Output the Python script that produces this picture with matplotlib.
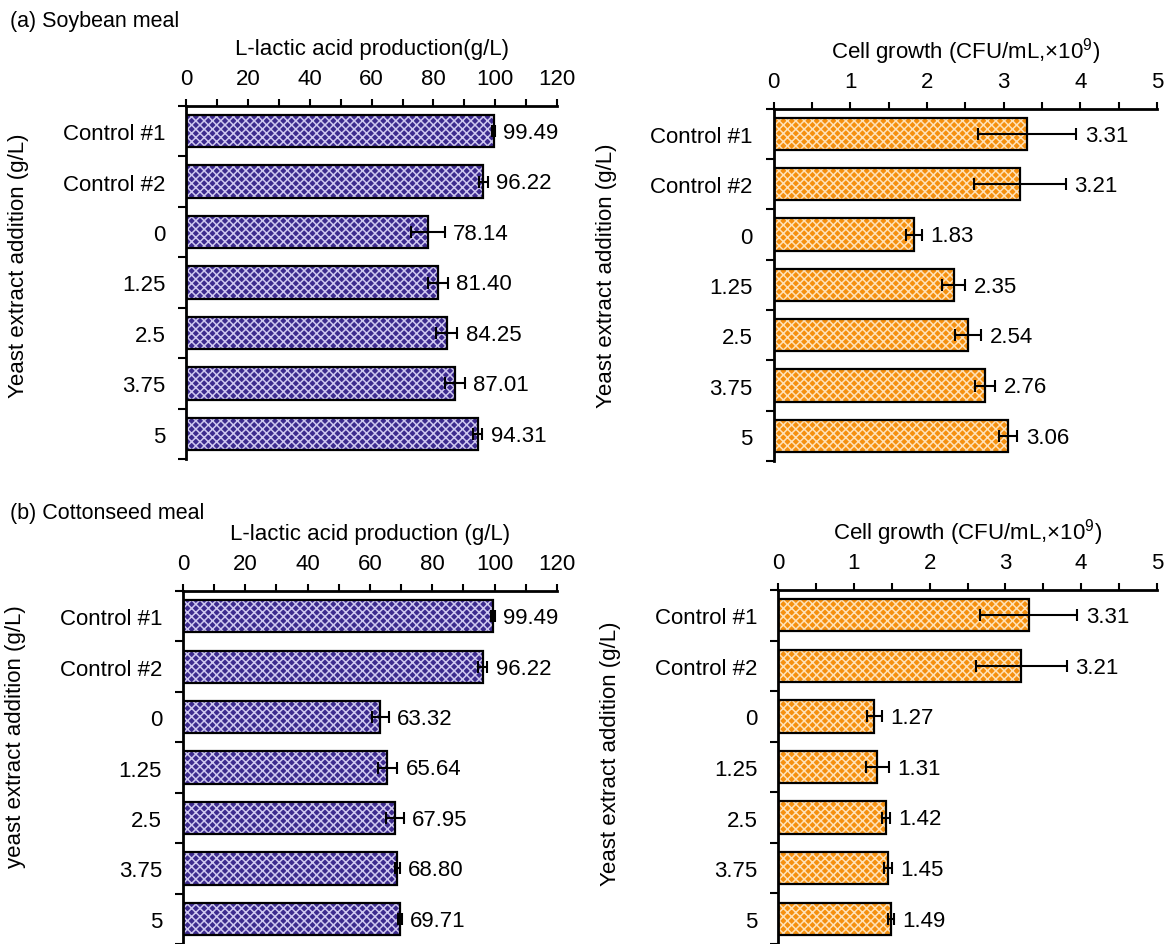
import numpy as np
import matplotlib.pyplot as plt
from matplotlib.ticker import MultipleLocator, FixedLocator

plt.rcParams['font.family'] = ['Liberation Sans', 'DejaVu Sans']
plt.rcParams['mathtext.fontset'] = 'custom'
plt.rcParams['mathtext.rm'] = 'Liberation Sans'
plt.rcParams['hatch.linewidth'] = 1.1

categories = ["Control #1", "Control #2", "0", "1.25", "2.5", "3.75", "5"]

soy_lactic = [99.49, 96.22, 78.14, 81.40, 84.25, 87.01, 94.31]
soy_lactic_err = [0.5, 1.5, 5.5, 3.2, 3.5, 3.2, 1.5]
soy_cell = [3.31, 3.21, 1.83, 2.35, 2.54, 2.76, 3.06]
soy_cell_err = [0.64, 0.60, 0.10, 0.15, 0.17, 0.13, 0.12]

cotton_lactic = [99.49, 96.22, 63.32, 65.64, 67.95, 68.80, 69.71]
cotton_lactic_err = [0.5, 1.5, 2.7, 3.1, 2.9, 0.8, 0.6]
cotton_cell = [3.31, 3.21, 1.27, 1.31, 1.42, 1.45, 1.49]
cotton_cell_err = [0.64, 0.60, 0.10, 0.15, 0.05, 0.05, 0.04]

PURPLE = ('#3d2b8e', '#cfc8f0')
ORANGE = ('#f5900f', '#ffe2b8')
FS = 16

fig = plt.figure(figsize=(11.65, 9.45), dpi=100)


def panel(rect, vals, errs, colors, xmax, xmajor, xlabel, ylabel, ylabel_y):
    ax = fig.add_axes(rect)
    y = np.arange(len(categories))
    base, light = colors
    # patterned fill, then the black outline on top
    ax.barh(y, vals, height=0.64, color=base, edgecolor=light,
            linewidth=0, hatch='xxxx', zorder=2)
    ax.barh(y, vals, height=0.64, fill=False, edgecolor='black',
            linewidth=1.6, zorder=3)
    ax.errorbar(vals, y, xerr=errs, fmt='none', ecolor='black',
                elinewidth=1.5, capsize=4, capthick=1.5, zorder=4)
    for yi, v, e in zip(y, vals, errs):
        ax.annotate(f"{v:.2f}", (v + e, yi), xytext=(6, -1),
                    textcoords='offset points', va='center', ha='left',
                    fontsize=FS)

    ax.set_xlim(0, xmax)
    ax.set_ylim(len(categories) - 0.5, -0.5)
    ax.xaxis.tick_top()
    ax.xaxis.set_label_position('top')
    ax.xaxis.set_major_locator(MultipleLocator(xmajor))
    ax.xaxis.set_minor_locator(MultipleLocator(xmajor / 2))
    ax.tick_params(axis='x', which='both', direction='out', length=5,
                   width=1.5, labelsize=FS, pad=7)
    ax.set_xlabel(xlabel, fontsize=FS, labelpad=10)

    ax.set_yticks(y)
    ax.set_yticklabels(categories)
    ax.yaxis.set_minor_locator(FixedLocator(np.arange(len(categories) + 1) - 0.5))
    ax.tick_params(axis='y', which='major', length=0, labelsize=FS, pad=15)
    ax.tick_params(axis='y', which='minor', direction='out', length=6,
                   width=1.5)
    ax.set_ylabel(ylabel, fontsize=FS)
    ax.yaxis.set_label_coords(-157 / (rect[2] * 1165), ylabel_y)

    for side in ('right', 'bottom'):
        ax.spines[side].set_visible(False)
    for side in ('left', 'top'):
        ax.spines[side].set_linewidth(2)
    return ax


cell_label = "Cell growth (CFU/mL,×10$^{9}$)"

panel([0.160, 0.513, 0.318, 0.374], soy_lactic, soy_lactic_err, PURPLE,
      120, 20, "L-lactic acid production(g/L)", "Yeast extract addition (g/L)", 0.55)
panel([0.664, 0.511, 0.329, 0.373], soy_cell, soy_cell_err, ORANGE,
      5, 1, cell_label, "Yeast extract addition (g/L)", 0.53)
panel([0.157, 0.0, 0.321, 0.3735], cotton_lactic, cotton_lactic_err, PURPLE,
      120, 20, "L-lactic acid production (g/L)", "yeast extract addition (g/L)", 0.59)
panel([0.668, 0.0, 0.325, 0.3746], cotton_cell, cotton_cell_err, ORANGE,
      5, 1, cell_label, "Yeast extract addition (g/L)", 0.54)

fig.text(0.009, 0.977, "(a) Soybean meal", fontsize=15.5, va='center')
fig.text(0.009, 0.457, "(b) Cottonseed meal", fontsize=15.5, va='center')

fig.savefig("out.png", dpi=100)
